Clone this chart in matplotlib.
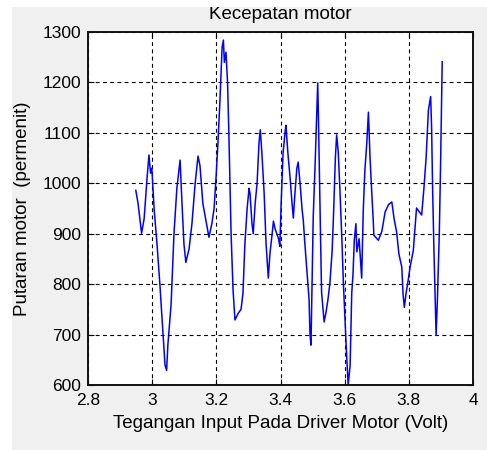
import matplotlib
matplotlib.use("Agg")
import matplotlib.pyplot as plt
from matplotlib.patches import Rectangle

# Data (voltage in V, speed in rpm)
voltage = [2.949, 2.956, 2.967, 2.975, 2.984, 2.990, 2.995, 2.999, 3.006, 3.015,
           3.024, 3.034, 3.040, 3.045, 3.049, 3.059, 3.068, 3.077, 3.087, 3.093,
           3.099, 3.105, 3.115, 3.124, 3.134, 3.143, 3.149, 3.158, 3.168, 3.177,
           3.186, 3.193, 3.199, 3.205, 3.211, 3.218, 3.222, 3.225, 3.230, 3.235,
           3.239, 3.246, 3.252, 3.258, 3.268, 3.277, 3.283, 3.289, 3.296, 3.302,
           3.305, 3.311, 3.315, 3.321, 3.327, 3.333, 3.337, 3.342, 3.349, 3.355,
           3.362, 3.367, 3.374, 3.378, 3.383, 3.388, 3.394, 3.398, 3.402, 3.408,
           3.414, 3.417, 3.423, 3.430, 3.436, 3.440, 3.445, 3.451, 3.455, 3.461,
           3.467, 3.471, 3.476, 3.483, 3.489, 3.492, 3.495, 3.502, 3.508, 3.513,
           3.516, 3.518, 3.521, 3.525, 3.528, 3.536, 3.542, 3.548, 3.554, 3.561,
           3.565, 3.571, 3.575, 3.580, 3.585, 3.591, 3.596, 3.604, 3.606, 3.611,
           3.614, 3.617, 3.622, 3.626, 3.630, 3.635, 3.638, 3.645, 3.653, 3.658,
           3.663, 3.669, 3.674, 3.679, 3.684, 3.689, 3.691, 3.705, 3.716, 3.726,
           3.737, 3.747, 3.754, 3.762, 3.769, 3.778, 3.782, 3.786, 3.791, 3.798,
           3.804, 3.814, 3.824, 3.831, 3.840, 3.847, 3.854, 3.861, 3.868, 3.871,
           3.874, 3.878, 3.885, 3.889, 3.895, 3.899, 3.904]
speed = [986, 960, 901, 930, 1010, 1056, 1020, 1030, 950, 880,
         800, 700, 640, 629, 680, 760, 900, 990, 1046, 960,
         880, 843, 870, 920, 1000, 1054, 1035, 960, 925, 893,
         920, 950, 1010, 1080, 1160, 1270, 1284, 1240, 1260, 1200,
         1100, 900, 790, 729, 742, 750, 782, 880, 950, 990,
         980, 920, 900, 960, 1000, 1080, 1106, 1060, 980, 880,
         812, 860, 900, 925, 910, 901, 890, 875, 960, 1060,
         1100, 1115, 1060, 1010, 960, 931, 980, 1030, 1042, 1000,
         950, 927, 880, 820, 770, 700, 679, 933, 1040, 1142,
         1199, 1139, 1026, 887, 784, 725, 745, 770, 802, 867,
         933, 1050, 1096, 1062, 990, 894, 802, 685, 660, 600,
         620, 639, 782, 820, 887, 920, 864, 890, 812, 947,
         1026, 1080, 1141, 1052, 987, 927, 897, 887, 905, 943,
         958, 963, 930, 903, 860, 834, 780, 754, 780, 808,
         834, 867, 951, 945, 937, 990, 1052, 1145, 1172, 1110,
         993, 873, 699, 768, 901, 1040, 1241]

x_ticks = [2.8, 3.0, 3.2, 3.4, 3.6, 3.8, 4.0]
x_tick_labels = ["2.8", "3", "3.2", "3.4", "3.6", "3.8", "4"]
y_ticks = [600, 700, 800, 900, 1000, 1100, 1200, 1300]

plt.rcParams['font.family'] = ['Liberation Sans', 'DejaVu Sans']

W, H = 487, 450
fig = plt.figure(figsize=(W / 100, H / 100), dpi=100)
fig.patch.set_facecolor('#f0f0f0')

ax = fig.add_axes([88 / W, (H - 385) / H, 385 / W, 353 / H])
ax.set_facecolor('white')
ax.plot(voltage, speed, color='#0000ff', linewidth=1.1)

ax.set_xlim(2.8, 4.0)
ax.set_ylim(600, 1300)
ax.set_xticks(x_ticks)
ax.set_xticklabels(x_tick_labels)
ax.set_yticks(y_ticks)
ax.tick_params(direction='in', length=4, width=0.8, top=True, right=True,
               labelsize=12.5, colors='black')
ax.tick_params(axis='x', pad=6)
ax.tick_params(axis='y', pad=5)
ax.grid(True, color='black', linestyle=(0, (3.5, 3)), linewidth=0.8)
for s in ax.spines.values():
    s.set_color('#111111')
    s.set_linewidth(1.4)

ax.set_title('Kecepatan motor', fontsize=13.5, pad=9.5)
ax.set_xlabel('Tegangan Input Pada Driver Motor (Volt)', fontsize=13.5, labelpad=5)
ax.set_ylabel('Putaran motor  (permenit)', fontsize=13.5, labelpad=8)

# white border strips (screenshot edge)
fig.add_artist(Rectangle((0, 0), 12 / W, 1, transform=fig.transFigure,
                         facecolor='white', edgecolor='none', zorder=10))
fig.add_artist(Rectangle((0, 1 - 7 / H), 1, 7 / H, transform=fig.transFigure,
                         facecolor='white', edgecolor='none', zorder=10))

fig.savefig('out.png', dpi=100, facecolor=fig.get_facecolor())
